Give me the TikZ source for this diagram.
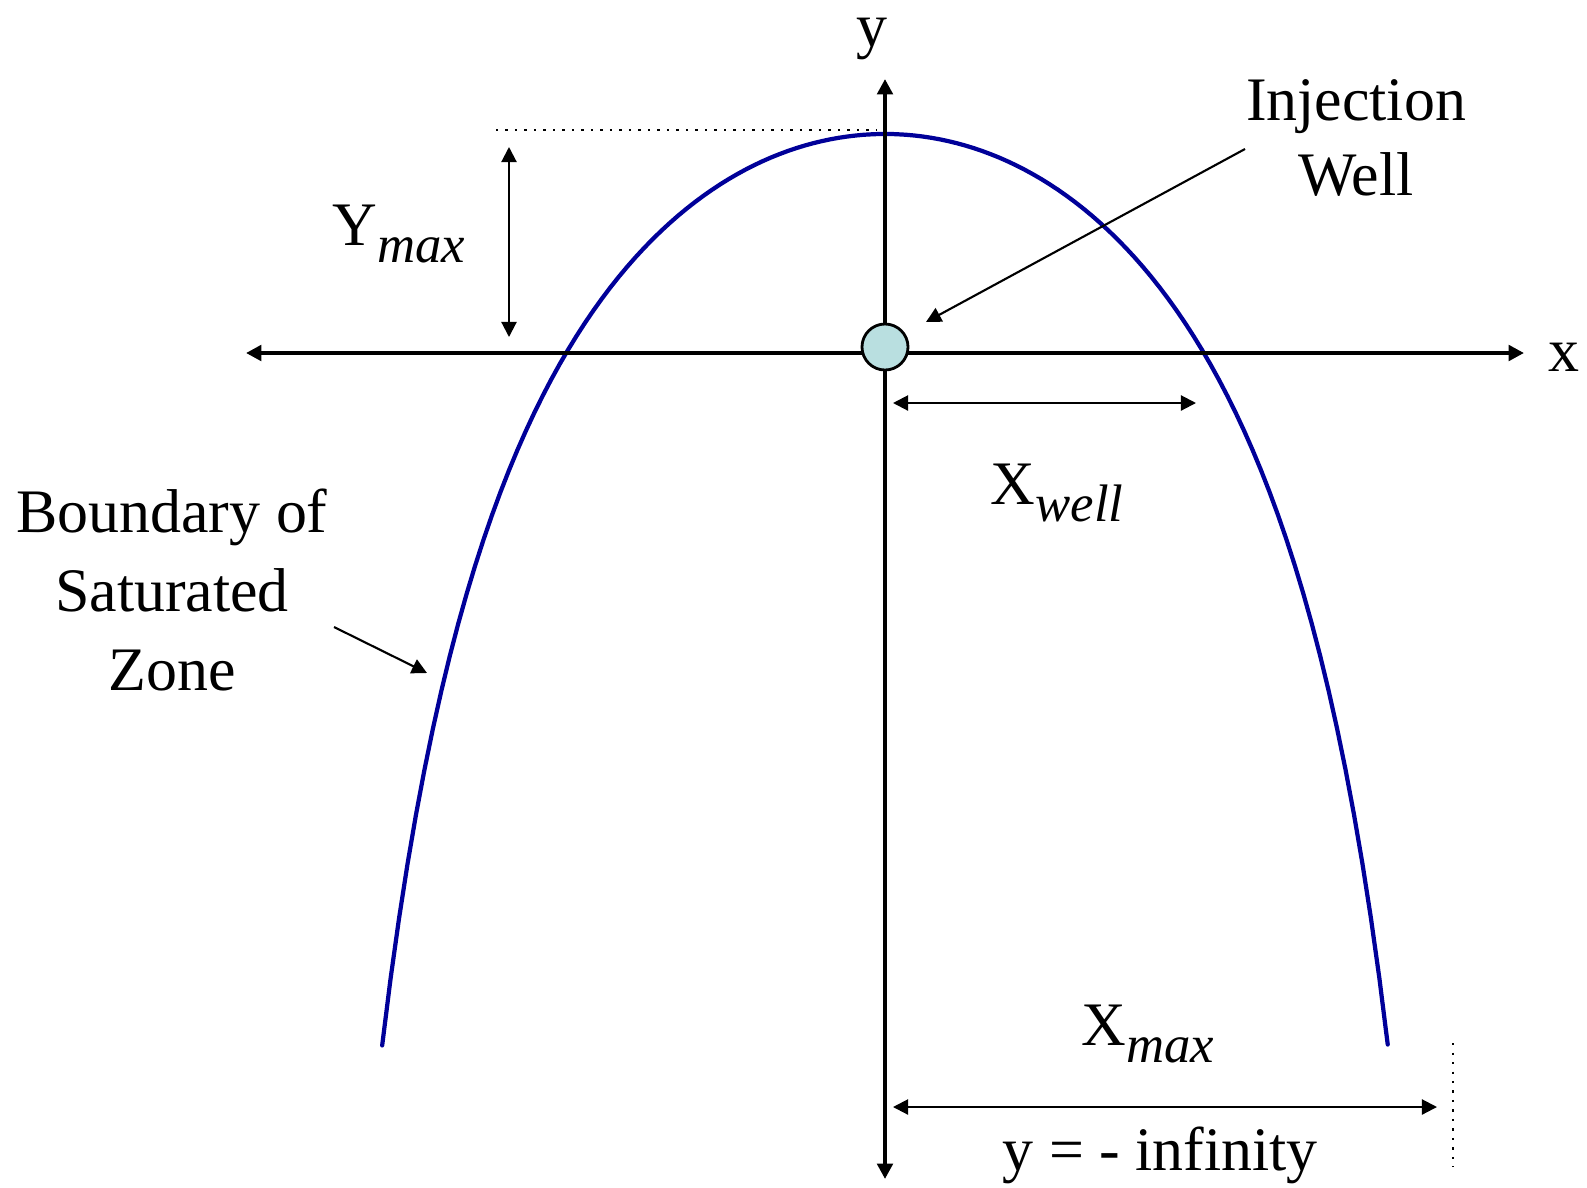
\documentclass[tikz,border=0pt]{standalone}
\usepackage{fontspec}
\setmainfont{Liberation Serif}
\usetikzlibrary{arrows.meta,calc,positioning}
\definecolor{zone}{HTML}{000099}
\definecolor{wellfill}{HTML}{B9DFE0}
\newcommand{\subtxt}[1]{\raisebox{-5pt}{\fontsize{15}{17}\selectfont\itshape #1}}
\tikzset{axtip/.tip={Triangle[length=4.4pt,width=4.4pt]},
  thintip/.tip={Triangle[length=4.3pt,width=4.3pt]}}

\begin{document}
\begin{tikzpicture}[x=0.01cm,y=-0.01cm,
    lbl/.style={font=\fontsize{17.6}{21.5}\selectfont,inner sep=0pt,align=center},
    axisline/.style={line width=1.4pt},
    dimline/.style={line width=0.6pt,{thintip}-{thintip}},
    pointer/.style={line width=0.6pt,-{thintip}},
    guide/.style={line width=0.7pt,dotted}]
  \useasboundingbox (0,0) rectangle (1587,1187);

  % saturated zone boundary
  \draw[zone,line width=1.2pt,line cap=round] plot[domain=-2.477:2.477,samples=120,variable=\t]
    ({885+203*\t},{353-219*\t*cot(\t r)});

  % axes
  \coordinate (xl) at (246,353);
  \coordinate (xr) at (1524,353);
  \coordinate (yb) at (885,1179);
  \coordinate (yt) at (885,79);
  \draw[axisline,{axtip}-{axtip}] (xl) -- (xr);
  \draw[axisline,{axtip}-{axtip}] (yb) -- (yt);
  \node[lbl,anchor=base] (xlab) at (1564,371) {x};
  \node[lbl,anchor=base] (ylab) at (872,46) {y};

  % well
  \node[circle,draw,fill=wellfill,line width=0.8pt,minimum size=0.46cm,inner sep=0pt] (well) at (885,347) {};

  % Ymax
  \coordinate (top1) at (496,130);
  \coordinate (top2) at (877,130);
  \draw[guide] (top1) -- (top2);
  \coordinate (ya) at (509,147);
  \coordinate (yz) at (509,337);
  \draw[dimline] (ya) -- (yz);
  \node[lbl,anchor=base west] (ymax) at (332,245) {Y\subtxt{max}};

  % Xwell
  \coordinate (wa) at (893,403);
  \coordinate (wz) at (1196,403);
  \draw[dimline] (wa) -- (wz);
  \node[lbl,anchor=base west] (xwell) at (990,504) {X\subtxt{well}};

  % Xmax
  \coordinate (ma) at (893,1107);
  \coordinate (mz) at (1437,1107);
  \draw[dimline] (ma) -- (mz);
  \coordinate (end1) at (1453,1043);
  \coordinate (end2) at (1453,1167);
  \draw[guide] (end1) -- (end2);
  \node[lbl,anchor=base west] (xmax) at (1081,1045) {X\subtxt{max}};
  \node[lbl,anchor=base west] (inf) at (1002,1170) {y = - infinity};

  % labels with pointers
  \node[lbl] (inj) at (1356,138) {Injection\\Well};
  \coordinate (inja) at (1245,149);
  \coordinate (injz) at (926,322);
  \draw[pointer] (inja) -- (injz);

  \node[lbl,font=\fontsize{17.6}{22.5}\selectfont] (bnd) at (172,590) {Boundary of\\Saturated\\Zone};
  \coordinate (bnda) at (334,627);
  \coordinate (bndz) at (427,673);
  \draw[pointer] (bnda) -- (bndz);
\end{tikzpicture}
\end{document}
